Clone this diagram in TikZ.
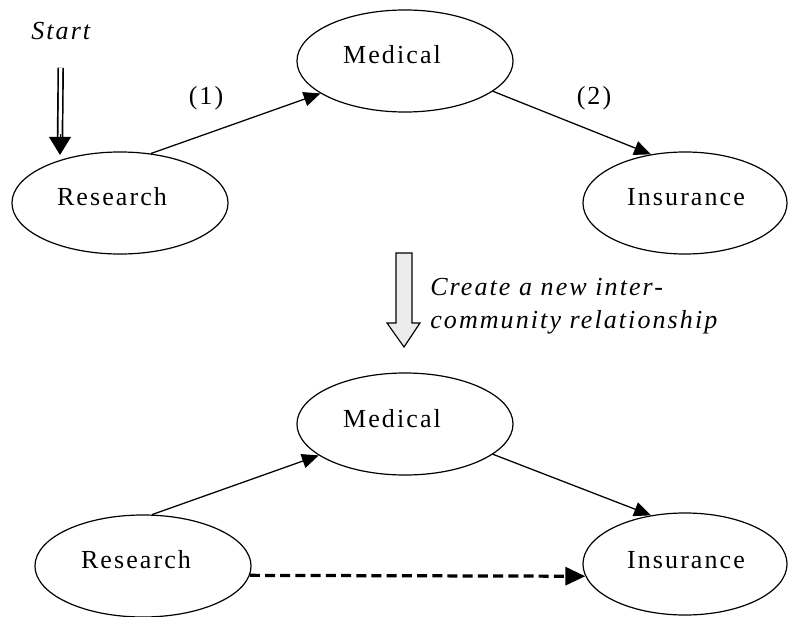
\documentclass[tikz,border=0pt]{standalone}
\usepackage{fontspec}
\usepackage{tikz}
\usetikzlibrary{arrows.meta,shapes.geometric,calc}
\newfontfamily\commfont[LetterSpace=8]{Liberation Serif}

\begin{document}
\begin{tikzpicture}[
  x=0.025cm, y=-0.025cm,
  comm/.style={ellipse,draw,line width=0.85pt,minimum width=5.4cm,
               minimum height=2.55cm,inner sep=0pt},
  narrow/.style={minimum width=5.1cm},
  lab/.style={font=\commfont\fontsize{18.5}{22}\selectfont,inner sep=0pt},
  note/.style={font=\commfont\itshape\fontsize{18.5}{22}\selectfont,inner sep=0pt},
  conn/.style={line width=0.9pt,-{Triangle[length=0.42cm,width=0.36cm]}},
  dashconn/.style={line width=2.3pt,dash pattern=on 0.25cm off 0.13cm,
                   -{Triangle[length=0.5cm,width=0.45cm]}},
  dblline/.style={double,double distance=2.2pt,line width=1.2pt},
  dbltip/.style={-{Triangle[length=0.45cm,width=0.55cm]}},
  bigarrow/.style={draw,line width=0.8pt,fill=gray!15}
]
\useasboundingbox (0,0) rectangle (788,617);

% before
\node[comm] (med1) at (405,61) {};
\node[comm] (res1) at (120,203) {};
\node[comm,narrow] (ins1) at (685,203) {};
\node[lab] (med1t) at ($(med1)+(-13,-6)$) {Medical};
\node[lab] (res1t) at ($(res1)+(-8,-6)$) {Research};
\node[lab] (ins1t) at ($(ins1)+(1,-6)$) {Insurance};

\node[note,anchor=base west] (start) at (31,40) {Start};
\coordinate (stip) at (60,155);
\draw[dblline] ([yshift=-0.68cm]start.south) -- ([yshift=0.4cm]stip);
\draw[dbltip,line width=0pt] ([yshift=0.5cm]stip) -- (stip);

\draw[conn] (res1.58) -- (med1.201);
\draw[conn] (med1.341) -- (ins1.125);
\node[lab] (n1) at (206,98) {(1)};
\node[lab] (n2) at (594,98) {(2)};

% transition
\draw[bigarrow] (396,253) -- (412,253) -- (412,323) -- (420,323) -- (404,347)
  -- (387,323) -- (396,323) -- cycle;
\node[note,anchor=base west] (crt1) at (430,295) {Create a new inter-};
\node[note,anchor=base west] (crt2) at (430,328) {community relationship};

% after
\node[comm] (med2) at (405,424) {};
\node[comm] (res2) at (143,566) {};
\node[comm,narrow] (ins2) at (685,564) {};
\node[lab] (med2t) at ($(med2)+(-13,-5)$) {Medical};
\node[lab] (res2t) at ($(res2)+(-7,-6)$) {Research};
\node[lab] (ins2t) at ($(ins2)+(1,-4)$) {Insurance};

\draw[conn] (res2.80) -- (med2.200);
\draw[conn] (med2.341) -- (ins2.125);
\draw[dashconn] (res2.-5) -- (ins2.187);
\end{tikzpicture}
\end{document}
